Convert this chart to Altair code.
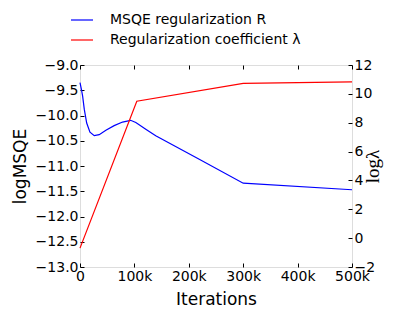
import altair as alt
import pandas as pd

# Blue series: log MSQE of regularization R
iter_R = [0, 2500, 4900, 7900, 12300, 18300, 26200, 35300, 47600, 62800, 78200, 93000, 102600, 120900, 139200, 220000, 300000, 500000]
msqe_R = [-9.35, -9.48, -9.62, -9.88, -10.15, -10.33, -10.40, -10.38, -10.29, -10.20, -10.13, -10.095, -10.14, -10.27, -10.40, -10.87, -11.34, -11.47]

# Red series: log lambda
iter_lam = [0, 104400, 300000, 500000]
log_lam = [-0.69, 9.49, 10.72, 10.83]

labels = ["MSQE regularization R", "Regularization coefficient λ"]
x_ticks = [0, 100000, 200000, 300000, 400000, 500000]
y_left_ticks = [-13.0, -12.5, -12.0, -11.5, -11.0, -10.5, -10.0, -9.5, -9.0]
y_right_ticks = [-2, 0, 2, 4, 6, 8, 10, 12]

df = pd.DataFrame({
    "iter": iter_R + iter_lam,
    "val": msqe_R + log_lam,
    "series": [labels[0]] * len(iter_R) + [labels[1]] * len(iter_lam),
})

FONT = "DejaVu Sans"
xscale = alt.Scale(domain=[0, 500000], nice=False, zero=False)
color = alt.Color(
    "series:N",
    scale=alt.Scale(domain=labels, range=["#0000ff", "#ff0000"]),
    legend=alt.Legend(
        title=None, orient="none", legendX=-10, legendY=-57,
        symbolType="stroke", symbolSize=484, symbolStrokeWidth=1.2,
        labelFont=FONT, labelFontSize=14, labelColor="black",
        labelOffset=16, rowPadding=1, padding=0, labelLimit=400,
    ),
)

common_axis = dict(domain=False, grid=False, tickSize=4, offset=-4, tickColor="black",
                   tickWidth=1, labelFont=FONT, labelFontSize=14, labelColor="black",
                   labelOverlap=False, labelFlush=False, labelBound=False,
                   titleFontWeight="normal", titleColor="black")

base = alt.Chart(df)

blue = base.transform_filter(alt.datum.series == labels[0]).mark_line(strokeWidth=1.2).encode(
    x=alt.X("iter:Q", scale=xscale, axis=alt.Axis(
        orient="bottom", values=x_ticks,
        labelExpr="datum.value == 0 ? '0' : (datum.value / 1000) + 'k'",
        title="Iterations", titleFont=FONT, titleFontSize=17, titlePadding=8,
        labelPadding=2, **common_axis)),
    y=alt.Y("val:Q", scale=alt.Scale(domain=[-13, -9], nice=False, zero=False), axis=alt.Axis(
        orient="left", values=y_left_ticks, format=".1f",
        title="logMSQE", titleFont=FONT, titleFontSize=17, titlePadding=6,
        labelPadding=2, **common_axis)),
    color=color,
)

red = base.transform_filter(alt.datum.series == labels[1]).mark_line(strokeWidth=1.2).encode(
    x=alt.X("iter:Q", scale=xscale, axis=alt.Axis(
        orient="top", values=x_ticks, labels=False, title=None, **common_axis)),
    y=alt.Y("val:Q", scale=alt.Scale(domain=[-2, 12], nice=False, zero=False), axis=alt.Axis(
        orient="right", values=y_right_ticks, format="d",
        title="logλ", titleFont="Liberation Serif", titleFontSize=19, titleAngle=270,
        titlePadding=8, labelPadding=2, **common_axis)),
    color=color,
)

chart = alt.layer(blue, red).resolve_scale(y="independent").resolve_axis(x="independent").properties(
    width=272, height=202,
    padding={"left": 72, "top": 57, "right": 47, "bottom": 41},
    autosize=alt.AutoSizeParams(type="none"),
).configure_view(stroke="black", strokeWidth=1).configure(background="white")

chart.save("out.html", embed_options={"renderer": "svg", "actions": False})
